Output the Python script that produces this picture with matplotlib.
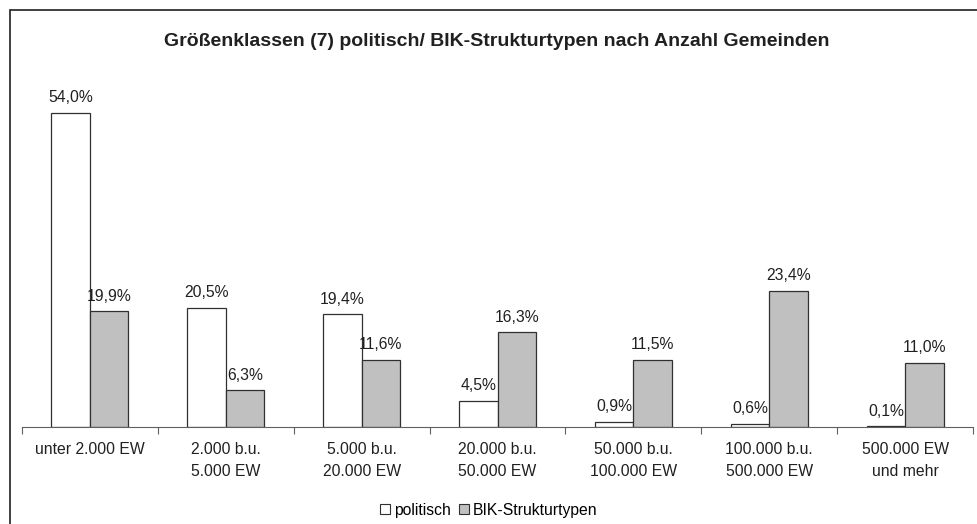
import matplotlib
matplotlib.use("Agg")
import matplotlib.pyplot as plt
import numpy as np
from matplotlib.lines import Line2D

plt.rcParams["font.family"] = ["Liberation Sans", "DejaVu Sans"]

categories = ["unter 2.000 EW", "2.000 b.u.\n5.000 EW", "5.000 b.u.\n20.000 EW",
              "20.000 b.u.\n50.000 EW", "50.000 b.u.\n100.000 EW",
              "100.000 b.u.\n500.000 EW", "500.000 EW\nund mehr"]
politisch = [54.0, 20.5, 19.4, 4.5, 0.9, 0.6, 0.1]
bik = [19.9, 6.3, 11.6, 16.3, 11.5, 23.4, 11.0]
series_names = ["politisch", "BIK-Strukturtypen"]
colors = ["white", "#c0c0c0"]


def fmt(v):
    return f"{v:.1f}%".replace(".", ",")


fig = plt.figure(figsize=(9.77, 5.24), dpi=100)
ax = fig.add_axes([22 / 977, 1 - 427 / 524, 951 / 977, 349 / 524])

x = np.arange(len(categories))
w = 0.283
for vals, off, col in [(politisch, -w / 2, colors[0]), (bik, w / 2, colors[1])]:
    bars = ax.bar(x + off, vals, w, color=col, edgecolor="#303030", linewidth=0.9)
    for b, v in zip(bars, vals):
        ax.annotate(fmt(v), (b.get_x() + b.get_width() / 2, v), xytext=(0, 5.5),
                    textcoords="offset points", ha="center", va="bottom", fontsize=11.3,
                    color="#202020")

ax.set_xlim(-0.5, len(categories) - 0.5)
ax.set_ylim(0, 60)
ax.set_yticks([])
for s in ["top", "right", "left"]:
    ax.spines[s].set_visible(False)
ax.spines["bottom"].set_color("#606060")
ax.set_xticks(np.arange(-0.5, len(categories)), minor=False)
ax.set_xticklabels([])
ax.tick_params(axis="x", direction="out", length=5, color="#606060")
for i, c in enumerate(categories):
    ax.text(i, -2.6, c, ha="center", va="top", fontsize=11.3, color="#202020",
            linespacing=1.55)

fig.text(497 / 977, 1 - 42 / 524, "Größenklassen (7) politisch/ BIK-Strukturtypen nach Anzahl Gemeinden",
         ha="center", va="center", fontsize=14, fontweight="bold", color="#202020")

handles = [Line2D([], [], marker="s", linestyle="none", markersize=7,
                  markerfacecolor=c, markeredgecolor="#303030", markeredgewidth=0.8)
           for c in colors]
fig.legend(handles, series_names, loc="center", bbox_to_anchor=(488 / 977, 1 - 510 / 524),
           ncol=2, frameon=False, fontsize=11.3, handletextpad=0.1, columnspacing=0.4,
           handlelength=0.9)

border = plt.Rectangle((10 / 977, -0.05), 1.0, 1.05 - 10 / 524, transform=fig.transFigure,
                       fill=False, edgecolor="#202020", linewidth=1.2)
fig.patches.append(border)

fig.savefig("out.png", dpi=100)
